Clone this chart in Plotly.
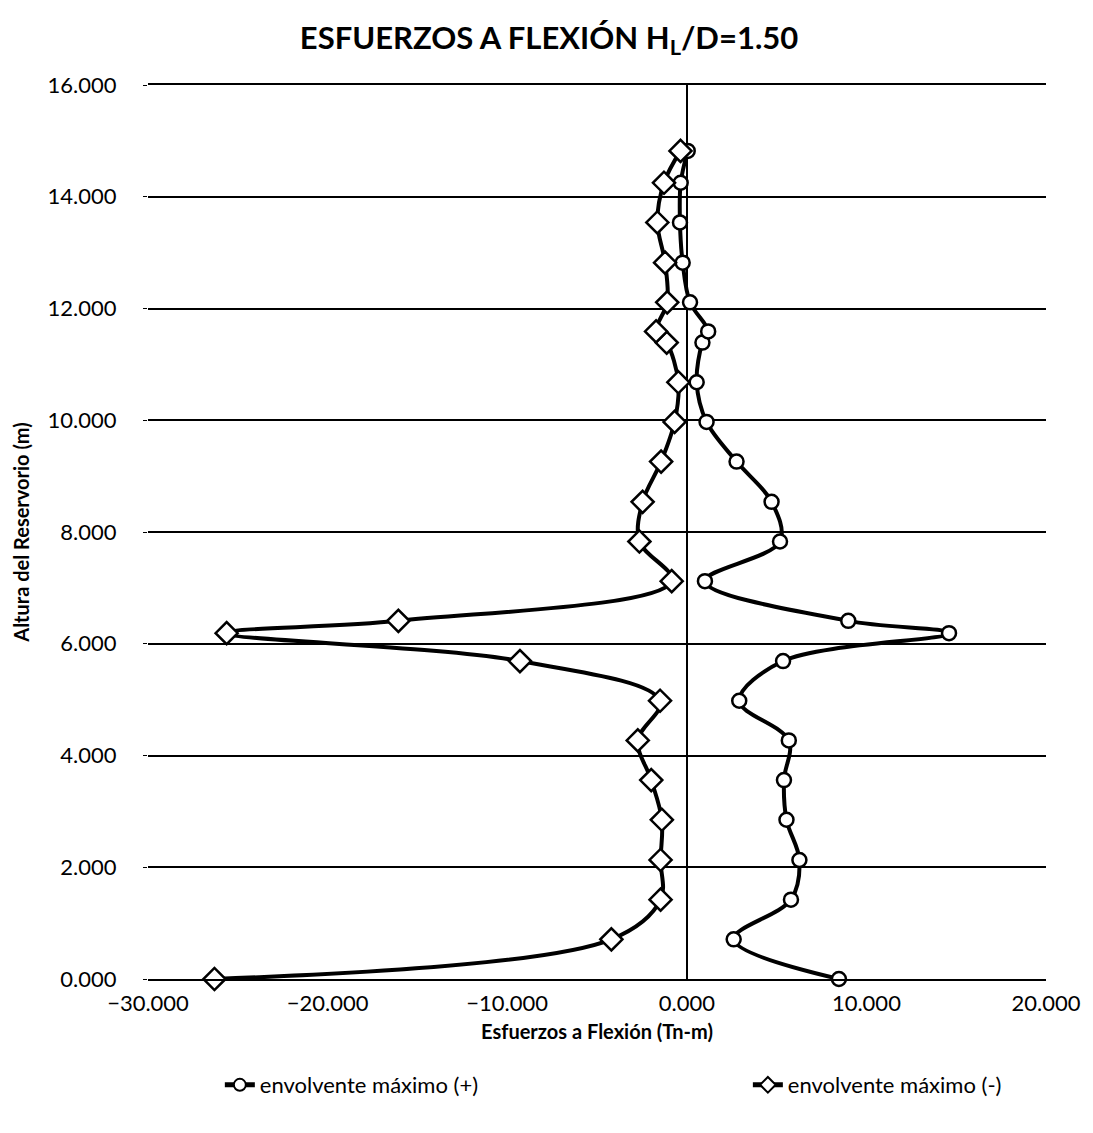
import plotly.graph_objects as go

# Altura del reservorio (m)
altura = [0.00, 0.71, 1.42, 2.13, 2.85, 3.56, 4.27, 4.98, 5.69, 6.19, 6.41, 7.12,
          7.83, 8.54, 9.26, 9.97, 10.68, 11.39, 11.59, 12.11, 12.82, 13.54, 14.25, 14.82]

# envolvente máximo (+) (Tn-m)
env_pos = [8.47, 2.61, 5.80, 6.27, 5.55, 5.41, 5.68, 2.92, 5.36, 14.60, 8.99, 1.01,
           5.19, 4.72, 2.77, 1.10, 0.55, 0.87, 1.19, 0.18, -0.23, -0.38, -0.34, 0.05]

# envolvente máximo (-) (Tn-m)
env_neg = [-26.30, -4.20, -1.46, -1.46, -1.39, -1.98, -2.73, -1.49, -9.29, -25.62, -16.06, -0.84,
           -2.64, -2.46, -1.43, -0.68, -0.47, -1.12, -1.71, -1.09, -1.21, -1.64, -1.27, -0.35]

x_ticks = [-30, -20, -10, 0, 10, 20]
y_ticks = [0, 2, 4, 6, 8, 10, 12, 14, 16]

FONT = "Lato"

fig = go.Figure()

fig.add_trace(go.Scatter(
    x=env_pos, y=altura, name="envolvente máximo (+)",
    mode="lines+markers",
    line=dict(color="black", width=4, shape="spline", smoothing=1.0),
    marker=dict(symbol="circle", size=14, color="white",
                line=dict(color="black", width=2.5)),
    cliponaxis=False, legend="legend",
))

fig.add_trace(go.Scatter(
    x=env_neg, y=altura, name="envolvente máximo (-)",
    mode="lines+markers",
    line=dict(color="black", width=4, shape="spline", smoothing=1.0),
    marker=dict(symbol="diamond", size=17, color="white",
                line=dict(color="black", width=2.5)),
    cliponaxis=False, legend="legend2",
))

legend_style = dict(
    orientation="h", xanchor="left", y=-0.1186, yanchor="middle",
    font=dict(family=FONT, size=22), itemsizing="constant",
    bgcolor="rgba(0,0,0,0)",
)

fig.update_layout(
    width=1093, height=1133,
    paper_bgcolor="white", plot_bgcolor="white",
    font=dict(family=FONT, size=22, color="black"),
    margin=dict(l=140, r=55, t=77, b=162),
    title=dict(
        text="<b>ESFUERZOS A FLEXIÓN H<sub>L</sub>/D=1.50</b>",
        x=0.495, xref="container", xanchor="center",
        y=1 - 30 / 1133, yref="container", yanchor="middle",
        font=dict(family=FONT, size=31, color="black"),
    ),
    xaxis=dict(
        range=[-30, 20], tickvals=x_ticks, tickformat=".3f",
        showgrid=False, zeroline=True, zerolinecolor="black", zerolinewidth=1.5,
        showline=True, mirror=True, linecolor="black", linewidth=1.5,
        ticks="", ticklabelstandoff=4,
        title=dict(text="<b>Esfuerzos a Flexión (Tn-m)</b>", standoff=10,
                   font=dict(family=FONT, size=20)),
    ),
    yaxis=dict(
        range=[0, 16], tickvals=y_ticks, tickformat=".3f",
        showgrid=True, gridcolor="black", gridwidth=1.5,
        zeroline=False, showline=False,
        ticks="outside", ticklen=4, tickcolor="black", ticklabelstandoff=22,
        title=dict(text="<b>Altura del Reservorio (m)</b>", standoff=12,
                   font=dict(family=FONT, size=20)),
    ),
    legend=dict(x=0.08, **legend_style),
    legend2=dict(x=0.668, **legend_style),
    showlegend=True,
)

fig.write_html("out.html")
